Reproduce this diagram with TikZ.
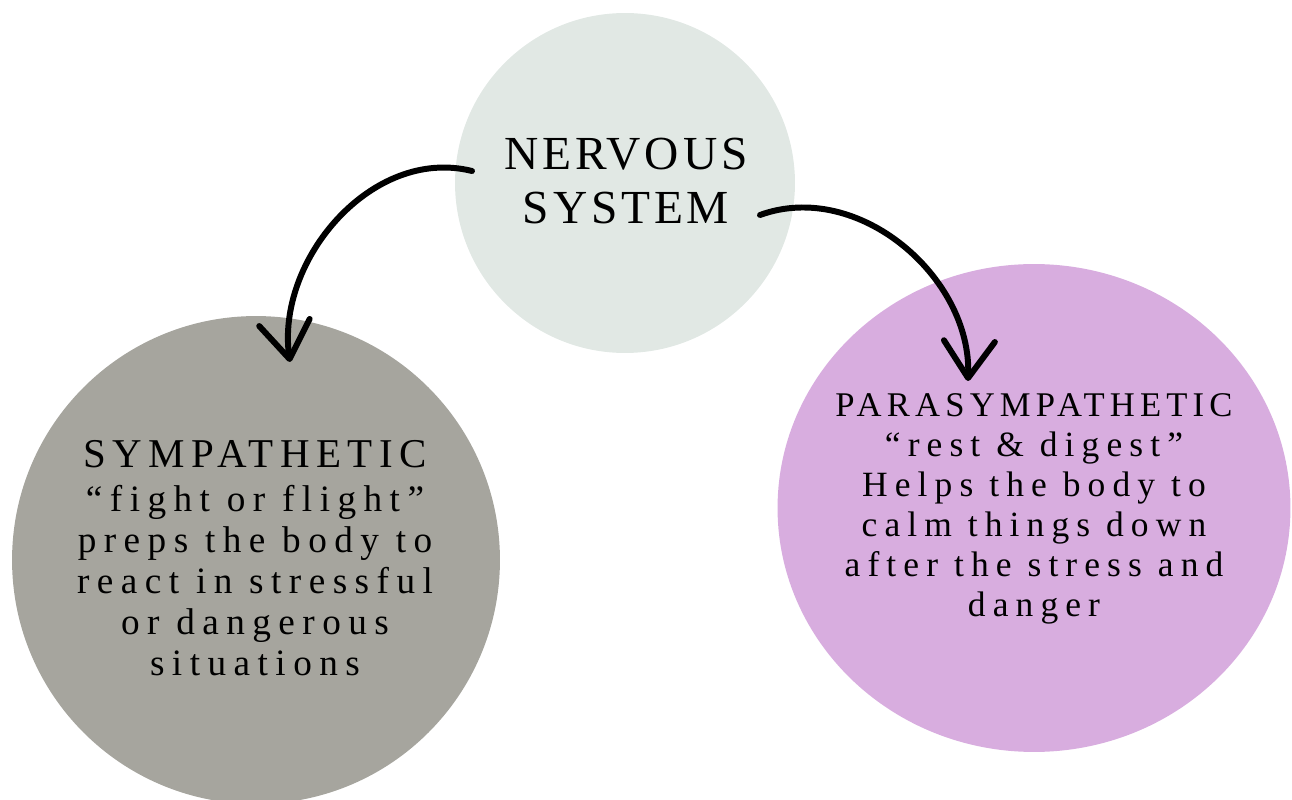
\documentclass[tikz,border=0pt]{standalone}
\usepackage{fontspec}
\setmainfont{Liberation Serif}
\newfontfamily\bigfont{Liberation Serif}[LetterSpace=8]
\newfontfamily\headfont{Liberation Serif}[LetterSpace=16]
\newfontfamily\paraheadfont{Liberation Serif}[LetterSpace=15]
\newfontfamily\bodyfont{Liberation Serif}[LetterSpace=20]
\usepackage{tikz}
\usetikzlibrary{positioning}
\usetikzlibrary{shapes.geometric, arrows.meta, calc}

\definecolor{nervousgrey}{HTML}{E1E8E4}
\definecolor{sympgrey}{HTML}{A6A59E}
\definecolor{paralilac}{HTML}{D8ADDF}

\tikzset{
  bubble/.style={circle, inner sep=0pt},
  bubbletext/.style={align=center, inner sep=0pt, text=black},
  bendarrow/.style={line width=3.4pt, line cap=round,
    -{Straight Barb[length=21pt, width=29pt, round]}},
}

\begin{document}
\begin{tikzpicture}[x=0.02cm, y=-0.02cm]
    % page
    \useasboundingbox (0,0) rectangle (1292,800);
    \clip (0,0) rectangle (1292,800);

    % bubbles
    \node[bubble, fill=nervousgrey, minimum size=6.8cm] (nervous) at (625,183) {};
    \node[bubble, fill=sympgrey, minimum size=9.76cm] (symp) at (256,560) {};
    \node[ellipse, inner sep=0pt, fill=paralilac, minimum width=10.26cm,
          minimum height=9.76cm] (para) at (1034,508) {};

    % texts
    \node[bubbletext, font={\bigfont\fontsize{27}{30.6}\selectfont}] (nervousText)
        at (626,181) {NERVOUS\\SYSTEM};
    \node[bubbletext, font={\bodyfont\fontsize{21.2}{23.4}\selectfont}] (sympText)
        at (255,558)
        {{\headfont\fontsize{23.3}{23.4}\selectfont SYMPATHETIC}\\[1.5pt]
         “fight or flight”\\
         preps the body to\\
         react in stressful\\
         or dangerous\\
         situations};
    \node[bubbletext, font={\bodyfont\fontsize{20.2}{22.7}\selectfont}] (paraText)
        at (1034,509)
        {{\paraheadfont\fontsize{19.7}{22.7}\selectfont PARASYMPATHETIC}\\
         “rest \& digest”\\
         Helps the body to\\
         calm things down\\
         after the stress and\\
         danger};

    % arrows
    \coordinate (leftStart) at ($(nervous.center)+(-153,-12)$);
    \coordinate (leftTip) at ($(symp.center)+(34,-198)$);
    \coordinate (rightStart) at ($(nervous.center)+(135,32)$);
    \coordinate (rightTip) at ($(para.center)+(-66,-127)$);
    \draw[bendarrow] (leftStart) to[out=166, in=98] (leftTip);
    \draw[bendarrow] (rightStart) to[out=20, in=88] (rightTip);
\end{tikzpicture}
\end{document}
